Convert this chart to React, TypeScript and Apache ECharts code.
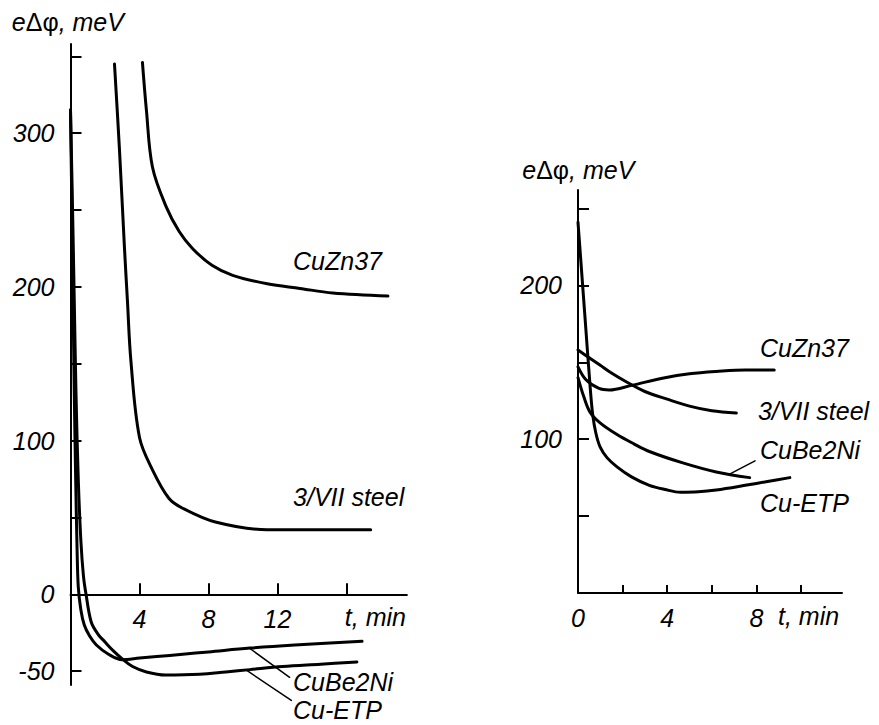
import React, { useEffect, useRef } from 'react';
import * as echarts from 'echarts';

// ---------- Left panel (t, min ; eΔφ, meV) ----------
const leftCuZn37: [number, number][] = [
  [4.17, 346], [4.4, 315], [4.75, 278], [5.55, 252], [6.3, 236], [7.07, 225],
  [8.2, 214], [9.4, 207.5], [11.4, 202], [13.3, 199], [15.2, 196], [18.4, 194],
];
const leftSteel: [number, number][] = [
  [2.55, 345], [2.84, 289], [3.13, 225], [3.3, 191], [3.5, 152], [4.0, 102],
  [4.75, 81], [5.7, 62.5], [6.5, 56], [8.4, 47], [11.4, 42], [17.4, 42],
];
const leftCuBe2Ni: [number, number][] = [
  [0, 315], [0.08, 250], [0.15, 190], [0.22, 130], [0.3, 75], [0.38, 30], [0.45, 5],
  [0.6, -10], [0.8, -20], [1.1, -27], [1.5, -33], [2.2, -39], [3, -42.5], [4, -41.5],
  [5, -40.5], [6.5, -39], [8, -37.5], [10.4, -35], [13, -33], [16.9, -30.6],
];
const leftCuETP: [number, number][] = [
  [0, 315], [0.12, 250], [0.22, 190], [0.32, 130], [0.45, 75], [0.6, 35], [0.75, 12],
  [0.9, 0], [1.2, -18], [1.6, -26], [2, -31], [2.5, -37], [3, -42], [3.6, -47],
  [4.4, -50.5], [5.5, -52.5], [7.5, -52], [9, -50.5], [10.4, -49], [12.3, -47],
  [14.5, -45.5], [16.6, -44],
];
const leftLeaderCuBe2Ni: [number, number][] = [[10.38, -35.1], [12.7, -54]];
const leftLeaderCuETP: [number, number][] = [[10.2, -49.4], [12.8, -69]];

// ---------- Right panel ----------
const rightCuZn37: [number, number][] = [
  [0, 147], [0.36, 138.6], [0.94, 133], [1.4, 132], [2.4, 135], [3.9, 140],
  [5, 142.5], [6.2, 144], [7.5, 145], [8.8, 145],
];
const rightSteel: [number, number][] = [
  [0, 158], [0.5, 153], [1, 148], [1.5, 143], [2.2, 137], [3, 131], [4, 126],
  [5, 121.5], [6, 118.5], [7.1, 117],
];
const rightCuBe2Ni: [number, number][] = [
  [0, 140], [0.25, 128], [0.54, 117.5], [0.99, 110.6], [1.75, 103], [2.5, 97],
  [3.2, 92], [4.7, 84.6], [6.2, 78.7], [7.7, 75],
];
const rightCuETP: [number, number][] = [
  [0, 241], [0.3, 182], [0.55, 133], [0.66, 116], [0.8, 104], [0.99, 95], [1.3, 88],
  [1.75, 82], [2.4, 75.5], [3.2, 70], [3.9, 67.3], [4.6, 65.5], [5.4, 65.8],
  [6.2, 67], [7.5, 70], [8.5, 72.5], [9.5, 75],
];
const rightLeaderCuBe2Ni: [number, number][] = [[7.94, 85.9], [6.82, 77.4]];

// axis ranges and tick values
const leftXRange = [0, 19.5];
const leftYRange = [-59, 358];
const rightXRange = [0, 11.84];
const rightYRange = [0, 262];
const leftYTicks = [-50, 0, 50, 100, 150, 200, 250, 300, 350];
const leftYLabels = [-50, 0, 100, 200, 300];
const leftXTicks = [4, 8, 12, 16];
const leftXLabels = [4, 8, 12];
const rightYTicks = [50, 100, 150, 200, 250];
const rightYLabels = [100, 200];
const rightXTicks = [2, 4, 6, 8, 10];
const rightXLabels = [0, 4, 8];

// text annotations (grid index, data coords)
const seriesLabels: { grid: number; at: [number, number]; text: string }[] = [
  { grid: 0, at: [12.9, 217], text: 'CuZn37' },
  { grid: 0, at: [12.9, 63], text: '3/VII steel' },
  { grid: 0, at: [12.9, -57], text: 'CuBe2Ni' },
  { grid: 0, at: [12.9, -75], text: 'Cu-ETP' },
  { grid: 0, at: [15.9, -15], text: 't, min' },
  { grid: 1, at: [8.16, 159], text: 'CuZn37' },
  { grid: 1, at: [8.07, 118], text: '3/VII steel' },
  { grid: 1, at: [8.16, 93], text: 'CuBe2Ni' },
  { grid: 1, at: [8.16, 58.6], text: 'Cu-ETP' },
  { grid: 1, at: [8.97, -15], text: 't, min' },
];
const titles: { grid: number; at: [number, number] }[] = [
  { grid: 0, at: [-3.4, 372] },
  { grid: 1, at: [-2.5, 275] },
];

const FONT = 'Liberation Sans';

export default function App() {
  const ref = useRef<HTMLDivElement>(null);
  useEffect(() => {
    const chart = echarts.init(ref.current!, null, { renderer: 'svg' });
    const labelStyle = {
      fontFamily: FONT,
      fontStyle: 'italic',
      fontSize: 25,
      color: '#000',
    };
    const mkLine = (data: [number, number][], gi: number, w = 3, smooth: any = 0.35) => ({
      type: 'line',
      data,
      xAxisIndex: gi,
      yAxisIndex: gi,
      symbol: 'none',
      showSymbol: false,
      smooth,
      silent: true,
      clip: false,
      lineStyle: { color: '#000', width: w, join: 'round', cap: 'round' },
    });
    const axisLine = { show: true, onZero: false, lineStyle: { color: '#000', width: 2 } };
    const grid0 = { left: 70.5, top: 44, width: 336.4, height: 641 };
    // move the left time axis up to the zero line
    const leftXOffset = -grid0.height * (0 - leftYRange[0]) / (leftYRange[1] - leftYRange[0]);

    chart.setOption({
      animation: false,
      backgroundColor: '#fff',
      grid: [grid0, { left: 578, top: 190, width: 264, height: 403 }],
      xAxis: [
        {
          type: 'value', gridIndex: 0, min: leftXRange[0], max: leftXRange[1],
          offset: leftXOffset,
          axisLine,
          splitLine: { show: false },
          axisTick: { show: true, inside: true, length: 11, customValues: leftXTicks, lineStyle: { color: '#000', width: 2 } },
          axisLabel: { ...labelStyle, margin: 12, customValues: leftXLabels },
        },
        {
          type: 'value', gridIndex: 1, min: rightXRange[0], max: rightXRange[1],
          axisLine,
          splitLine: { show: false },
          axisTick: { show: true, inside: true, length: 8, customValues: rightXTicks, lineStyle: { color: '#000', width: 2 } },
          axisLabel: { ...labelStyle, margin: 12, customValues: rightXLabels },
        },
      ],
      yAxis: [
        {
          type: 'value', gridIndex: 0, min: leftYRange[0], max: leftYRange[1],
          axisLine,
          splitLine: { show: false },
          axisTick: { show: true, inside: true, length: 11, customValues: leftYTicks, lineStyle: { color: '#000', width: 2 } },
          axisLabel: { ...labelStyle, margin: 16, customValues: leftYLabels },
        },
        {
          type: 'value', gridIndex: 1, min: rightYRange[0], max: rightYRange[1],
          axisLine,
          splitLine: { show: false },
          axisTick: { show: true, inside: true, length: 11, customValues: rightYTicks, lineStyle: { color: '#000', width: 2 } },
          axisLabel: { ...labelStyle, margin: 16, customValues: rightYLabels },
        },
      ],
      series: [
        mkLine(leftCuZn37, 0),
        mkLine(leftSteel, 0),
        mkLine(leftCuBe2Ni, 0),
        mkLine(leftCuETP, 0),
        mkLine(leftLeaderCuBe2Ni, 0, 1.5, false),
        mkLine(leftLeaderCuETP, 0, 1.5, false),
        mkLine(rightCuZn37, 1),
        mkLine(rightSteel, 1),
        mkLine(rightCuBe2Ni, 1),
        mkLine(rightCuETP, 1),
        mkLine(rightLeaderCuBe2Ni, 1, 1.5, false),
      ],
    });

    const px = (gi: number, at: [number, number]) =>
      chart.convertToPixel({ gridIndex: gi } as any, at) as number[];

    const graphics: any[] = [];
    seriesLabels.forEach((l) => {
      const [x, y] = px(l.grid, l.at);
      graphics.push({
        type: 'text', x, y, silent: true,
        style: {
          text: l.text, fill: '#000', fontFamily: FONT, fontStyle: 'italic',
          fontSize: 25, align: 'left', verticalAlign: 'middle',
        },
      });
    });
    titles.forEach((t) => {
      const [x, y] = px(t.grid, t.at);
      graphics.push({
        type: 'text', x, y, silent: true,
        style: {
          text: '{i|e}{u|Δφ}{i|, meV}',
          fill: '#000', fontFamily: FONT, fontSize: 25,
          align: 'left', verticalAlign: 'middle',
          rich: {
            i: { fontFamily: FONT, fontStyle: 'italic', fontSize: 25, fill: '#000' },
            u: { fontFamily: FONT, fontStyle: 'normal', fontSize: 25, fill: '#000' },
          },
        },
      });
    });
    chart.setOption({ graphic: graphics });

    return () => chart.dispose();
  }, []);
  return (
    <div
      ref={ref}
      style={{ position: 'absolute', left: 0, top: 0, width: 879, height: 725, background: '#fff' }}
    />
  );
}
